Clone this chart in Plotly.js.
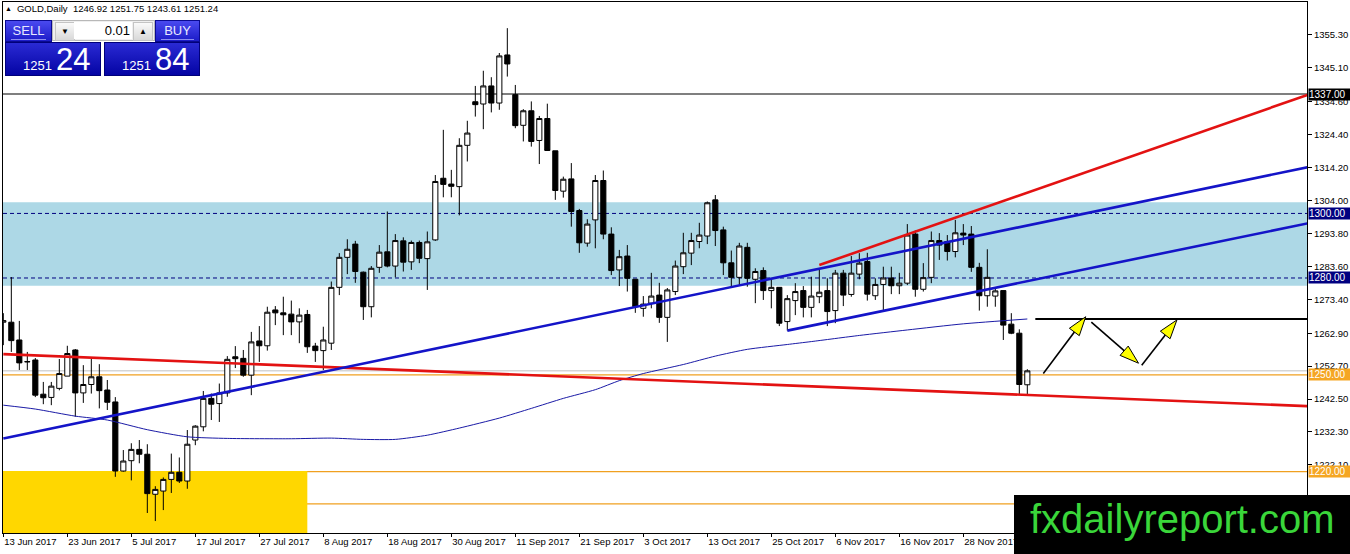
<!DOCTYPE html>
<html><head><meta charset="utf-8">
<script src="https://cdn.plot.ly/plotly-3.0.1.min.js"></script>
<style>
html,body{margin:0;padding:0;background:#fff;}
#wrap{position:relative;width:1350px;height:554px;overflow:hidden;font-family:"Liberation Sans",Arial,sans-serif;}
#chart{position:absolute;left:0;top:0;width:1350px;height:554px;}
.ov{position:absolute;box-sizing:border-box;}
#hdr{left:5px;top:3px;font-size:9.5px;color:#000;white-space:nowrap;line-height:12px;}
#hdr .tri{font-size:7px;margin-right:5px;vertical-align:1px;}
.btn{background:linear-gradient(#4a4af0,#1c1cc8);color:#e8e8ff;font-size:13px;text-align:center;line-height:20px;border:1px solid #0a0a90;}
.btn .sep{position:absolute;left:5px;right:5px;bottom:1px;height:1px;background:#8c8cf0;}
.pbox{background:linear-gradient(#2a2ad4,#0404a4);border:1px solid #00007a;color:#fff;}
.pbox .num{position:absolute;top:1px;white-space:nowrap;font-size:31px;line-height:31px;}
.pbox .small{font-size:13px;margin-right:4px;}
#spin{background:#efefef;border:1px solid #b8b8b8;}
#spin .b{position:absolute;top:1px;width:18px;height:17px;background:linear-gradient(#fafafa,#d8d8d8);border:1px solid #c4c4c4;font-size:8px;text-align:center;line-height:17px;color:#000;}
#spin .f{position:absolute;top:1px;left:20px;width:58px;height:17px;background:#fff;font-size:13px;text-align:right;line-height:17px;color:#000;padding-right:2px;box-sizing:border-box;}
#logo{left:1014px;top:495px;width:336px;height:59px;background:#000;color:#3ad63a;font-size:40px;line-height:49px;padding-left:16px;white-space:nowrap;}
</style></head><body>
<div id="wrap">
<div id="chart"></div>
<div class="ov" id="hdr"><span class="tri">&#9650;</span>GOLD,Daily&nbsp; 1246.92 1251.75 1243.61 1251.24</div>
<div class="ov btn" style="left:5px;top:20px;width:47px;height:22px;">SELL<div class="sep"></div></div>
<div class="ov" id="spin" style="left:52px;top:20px;width:103px;height:21px;">
  <div class="b" style="left:2px;">&#9660;</div>
  <div class="f" style="left:21px;width:58px;">0.01</div>
  <div class="b" style="left:80px;">&#9650;</div>
</div>
<div class="ov btn" style="left:155px;top:20px;width:45px;height:22px;">BUY<div class="sep"></div></div>
<div class="ov pbox" style="left:5px;top:42px;width:96px;height:34px;"><div class="num" style="left:17px;"><span class="small">1251</span>24</div></div>
<div class="ov pbox" style="left:104px;top:42px;width:96px;height:34px;"><div class="num" style="left:17px;"><span class="small">1251</span>84</div></div>
<div class="ov" id="logo">fxdailyreport.com</div>
</div>
<script>
// ---- candle data (GOLD, Daily) ----
const openP = [1266.3,1266.3,1260.8,1254.0,1254.6,1244.0,1243.0,1245.8,1249.6,1257.7,
1244.4,1247.0,1249.4,1245.3,1241.6,1220.2,1223.4,1226.9,1225.4,1213.0,
1214.0,1217.6,1219.8,1217.1,1229.8,1233.9,1242.7,1241.1,1244.4,1255.6,
1255.1,1249.9,1260.5,1259.0,1270.1,1269.2,1268.8,1266.4,1268.7,1258.9,
1257.5,1259.8,1277.1,1286.4,1290.5,1281.8,1271.1,1283.3,1288.1,1283.7,
1291.5,1285.0,1291.0,1286.0,1291.8,1310.9,1309.1,1308.3,1321.1,1334.6,
1333.9,1339.5,1334.2,1349.1,1336.8,1327.3,1331.8,1322.6,1329.4,1319.4,
1306.9,1310.7,1300.9,1290.8,1298.0,1310.2,1293.6,1282.5,1286.8,1279.6,
1270.6,1272.2,1274.7,1267.8,1275.8,1283.5,1287.7,1291.3,1293.0,1304.2,
1294.9,1284.7,1280.2,1289.5,1279.6,1282.3,1276.1,1277.1,1266.5,1273.0,
1276.1,1270.9,1274.2,1276.1,1269.9,1281.5,1274.9,1281.2,1285.1,1274.5,
1278.0,1280.0,1277.6,1278.4,1293.6,1276.5,1280.2,1291.6,1291.3,1288.2,
1293.9,1293.6,1283.3,1274.5,1274.4,1276.1,1265.7,1262.9,1246.92];
const highP = [1269.1,1280.3,1266.7,1257.1,1255.2,1247.8,1247.8,1254.9,1259.0,1258.0,
1253.0,1255.0,1253.3,1248.4,1243.1,1226.7,1228.8,1229.8,1228.5,1215.5,
1218.2,1225.6,1224.4,1232.9,1234.4,1245.0,1244.2,1247.3,1255.8,1258.9,
1257.7,1263.3,1265.1,1271.1,1271.3,1274.2,1273.0,1270.6,1270.1,1259.9,
1264.9,1278.9,1287.7,1292.0,1291.5,1282.0,1283.7,1290.2,1300.6,1293.6,
1292.6,1291.6,1291.6,1294.4,1311.9,1325.9,1313.5,1323.3,1328.7,1339.5,
1344.2,1342.2,1349.7,1357.4,1339.8,1332.3,1334.7,1330.2,1334.0,1319.4,
1311.4,1315.6,1301.4,1298.2,1311.9,1313.3,1295.7,1288.7,1290.2,1279.6,
1274.4,1281.6,1278.5,1276.9,1285.4,1294.0,1294.0,1297.1,1303.7,1305.7,
1295.9,1288.5,1290.9,1290.9,1283.0,1283.3,1279.6,1277.1,1274.7,1278.4,
1277.5,1280.4,1283.0,1279.9,1282.5,1282.5,1286.8,1287.7,1287.8,1279.9,
1283.5,1283.5,1281.6,1296.7,1294.7,1284.6,1294.4,1293.9,1293.3,1298.0,
1296.7,1296.1,1284.7,1288.9,1277.1,1276.1,1269.1,1264.1,1251.75];
const lowP = [1259.2,1257.1,1251.5,1251.5,1243.1,1240.9,1240.6,1245.2,1249.6,1237.0,
1241.3,1244.2,1239.6,1239.1,1218.4,1220.0,1217.3,1222.6,1207.2,1204.7,
1208.1,1213.4,1216.5,1214.7,1228.2,1232.5,1236.0,1235.4,1243.2,1252.1,
1249.4,1243.7,1254.0,1257.5,1265.4,1262.3,1262.3,1259.8,1256.8,1254.0,
1251.5,1257.7,1274.7,1281.2,1278.5,1267.0,1267.8,1281.6,1283.3,1280.2,
1282.0,1282.5,1284.6,1276.3,1291.5,1305.0,1305.0,1299.4,1316.1,1330.0,
1326.1,1331.3,1332.1,1342.4,1326.4,1322.3,1320.7,1315.3,1319.5,1304.2,
1304.9,1295.9,1287.8,1289.7,1289.2,1292.0,1280.9,1277.5,1275.8,1269.2,
1268.0,1270.6,1266.1,1260.2,1274.7,1281.2,1284.0,1289.2,1290.5,1289.9,
1280.9,1277.3,1277.8,1277.3,1272.2,1273.2,1270.6,1265.1,1263.7,1268.5,
1267.8,1267.8,1272.2,1265.1,1266.0,1271.3,1274.2,1279.6,1273.0,1273.2,
1270.1,1275.0,1275.0,1277.8,1274.2,1275.8,1278.4,1285.6,1285.4,1286.4,
1290.2,1281.9,1269.9,1271.1,1271.1,1260.8,1262.6,1243.7,1243.61];
const closeP = [1266.8,1260.6,1253.7,1254.1,1243.7,1242.9,1246.5,1250.4,1256.6,1244.4,
1247.0,1249.4,1245.1,1241.5,1220.2,1223.3,1226.9,1225.4,1213.2,1214.5,
1217.6,1219.8,1217.1,1228.5,1234.1,1242.7,1240.9,1244.4,1254.8,1255.0,
1249.9,1260.2,1259.0,1269.4,1269.2,1268.6,1266.4,1268.5,1258.7,1257.5,
1260.8,1277.1,1286.4,1288.9,1282.0,1271.1,1283.0,1288.0,1283.7,1291.6,
1284.9,1291.0,1286.1,1291.2,1309.9,1309.0,1308.4,1321.1,1324.9,1333.7,
1339.5,1334.2,1348.8,1346.3,1327.2,1331.8,1322.3,1329.4,1319.5,1307.1,
1310.6,1300.6,1290.9,1296.7,1310.2,1293.6,1282.3,1286.6,1279.9,1271.1,
1271.9,1274.4,1267.8,1276.3,1283.7,1287.8,1291.6,1293.3,1303.3,1294.7,
1284.7,1280.2,1289.9,1279.9,1282.0,1276.1,1277.1,1266.0,1273.6,1275.8,
1270.9,1274.4,1275.6,1269.6,1281.5,1274.7,1281.5,1284.6,1275.0,1278.0,
1280.0,1277.6,1278.4,1293.3,1276.5,1280.1,1291.6,1290.2,1288.2,1294.0,
1293.3,1283.3,1274.5,1280.2,1276.0,1265.4,1262.9,1247.0,1251.24];
const barIndex = openP.map((_, i) => i);

// ---- x-axis tick labels (bar index -> date) ----
const tickBars = [0,8,16,24,32,40,48,56,64,72,80,88,96,104,112,120];
const tickLabels = ["13 Jun 2017","23 Jun 2017","5 Jul 2017","17 Jul 2017","27 Jul 2017","8 Aug 2017",
 "18 Aug 2017","30 Aug 2017","11 Sep 2017","21 Sep 2017","3 Oct 2017","13 Oct 2017","25 Oct 2017",
 "6 Nov 2017","16 Nov 2017","28 Nov 2017"];
// ---- y-axis tick values ----
const priceTicks = [1355.30,1345.10,1334.60,1324.40,1314.20,1304.00,1293.80,1283.60,1273.40,1262.90,1252.70,1242.50,1232.30,1222.10,1211.90];

// ---- moving average ----
const maBar = [0,4,9,13,18,23,28,36,41,45,49,53,57,62,66,70,74,77,80,85,89,93,98,101,107,113,120,128];
const maValue = [1240.6,1239.4,1237.2,1236.0,1233.0,1230.8,1230.3,1230.2,1230.4,1230.0,1230.0,1231.3,1233.5,1236.6,1239.6,1242.7,1245.4,1248.2,1250.4,1253.2,1255.8,1257.9,1259.4,1260.3,1262.2,1263.9,1265.8,1267.3];

// ---- drawn objects (bar index / price) ----
const blueTrendBars = [0, 163],   blueTrendPrices = [1230.3, 1314.3];
const blueChanBars  = [98, 163],  blueChanPrices  = [1263.7, 1296.9];
const redLowBars    = [0, 163],   redLowPrices    = [1256.4, 1240.3];
const redHighBars   = [102, 163], redHighPrices   = [1284.0, 1336.7];
const targetBars    = [129, 163], targetPrices    = [1267.3, 1267.3];
const arrow1Bars = [130, 135.3], arrow1Prices = [1250.4, 1268.0];
const arrow2Bars = [136, 141.9], arrow2Prices = [1266.3, 1253.6];
const arrow3Bars = [142.3, 146.7], arrow3Prices = [1253.0, 1267.0];
const blueZone = [1277.6, 1303.5];
const goldZoneBars = [-1, 38], goldZone = [1190, 1220.2];
const resistLevel = 1337.00;
const dashedLevels = [1300.00, 1280.00];
const orangeLevels = [1250.00, 1220.00, 1210.00];
const bidLevel = 1251.24;

const FONT = '"Liberation Sans", Arial, sans-serif';

function lineTrace(xs, ys, color, width, extra) {
  return Object.assign({type:'scatter', mode:'lines', x:xs, y:ys, hoverinfo:'skip',
    line:{color:color, width:width}, showlegend:false}, extra || {});
}
function arrowTrace(xs, ys) {
  return {type:'scatter', mode:'lines+markers', x:xs, y:ys, hoverinfo:'skip', showlegend:false,
    line:{color:'#000', width:1.6},
    marker:{symbol:'arrow', angleref:'previous', size:[0,20], opacity:[0,1],
      color:'#ffff00', line:{color:'#000', width:1}}};
}

const traces = [
  {type:'candlestick', x:barIndex, open:openP, high:highP, low:lowP, close:closeP,
   increasing:{line:{color:'#000', width:1}, fillcolor:'#ffffff'},
   decreasing:{line:{color:'#000', width:1}, fillcolor:'#000000'},
   whiskerwidth:0, hoverinfo:'skip', showlegend:false},
  lineTrace(maBar, maValue, '#1a1aa6', 1, {line:{color:'#1a1aa6', width:1, shape:'spline', smoothing:0.6}}),
  lineTrace(redLowBars, redLowPrices, '#e31212', 2.6),
  lineTrace(redHighBars, redHighPrices, '#e31212', 2.6),
  lineTrace(blueTrendBars, blueTrendPrices, '#1414c8', 2.6),
  lineTrace(blueChanBars, blueChanPrices, '#1414c8', 2.6),
  lineTrace(targetBars, targetPrices, '#000', 2),
  arrowTrace(arrow1Bars, arrow1Prices),
  arrowTrace(arrow2Bars, arrow2Prices),
  arrowTrace(arrow3Bars, arrow3Prices)
];

const shapes = [
  {type:'rect', xref:'paper', x0:0, x1:1, yref:'y', y0:blueZone[0], y1:blueZone[1],
   fillcolor:'#add8e6', line:{width:0}, layer:'below'},
  {type:'rect', xref:'x', x0:goldZoneBars[0], x1:goldZoneBars[1], yref:'y', y0:goldZone[0], y1:goldZone[1],
   fillcolor:'#ffd700', line:{width:0}, layer:'below'},
  {type:'line', xref:'paper', x0:0, x1:1, yref:'y', y0:resistLevel, y1:resistLevel,
   line:{color:'#000', width:1.2}, layer:'below'},
  {type:'line', xref:'paper', x0:0, x1:1, yref:'y', y0:bidLevel, y1:bidLevel,
   line:{color:'#c0c0c0', width:1}, layer:'below'}
];
dashedLevels.forEach(v => shapes.push({type:'line', xref:'paper', x0:0, x1:1, yref:'y', y0:v, y1:v,
   line:{color:'#000080', width:1, dash:'4px,3px'}, layer:'below'}));
orangeLevels.forEach(v => shapes.push({type:'line', xref:'paper', x0:0, x1:1, yref:'y', y0:v, y1:v,
   line:{color:'#f0a020', width:1.2}, layer:'below'}));

function priceLabel(v, bg) {
  return {xref:'paper', x:1, xanchor:'left', xshift:1, yref:'y', y:v, yanchor:'middle',
    text:v.toFixed(2), showarrow:false, bgcolor:bg, width:41, height:11, align:'left',
    borderpad:0, font:{family:FONT, size:10, color:'#fff'}};
}
const annotations = [
  priceLabel(resistLevel, '#000000'),
  priceLabel(dashedLevels[0], '#000080'),
  priceLabel(dashedLevels[1], '#000080'),
  priceLabel(orangeLevels[0], '#f5a623'),
  priceLabel(orangeLevels[1], '#f5a623')
];

const layout = {
  width:1350, height:554,
  margin:{l:3, r:43, t:2, b:21, pad:0},
  paper_bgcolor:'#fff', plot_bgcolor:'#fff',
  showlegend:false,
  boxgap:0.2, boxgroupgap:0.2,
  font:{family:FONT, size:9.5, color:'#000'},
  xaxis:{type:'linear', range:[-0.04, 162.96], rangeslider:{visible:false},
    showgrid:false, zeroline:false, showline:true, mirror:true, linecolor:'#000', linewidth:1,
    ticks:'outside', ticklen:3, tickcolor:'#000', tickvals:tickBars, ticktext:tickLabels,
    ticklabelposition:'outside right', tickfont:{family:FONT, size:9.5, color:'#000'}},
  yaxis:{side:'right', range:[1201.0, 1365.5], showgrid:false, zeroline:false,
    showline:true, mirror:true, linecolor:'#000', linewidth:1,
    ticks:'outside', ticklen:4, tickcolor:'#000', tickvals:priceTicks,
    ticktext:priceTicks.map(v => v.toFixed(2)), tickfont:{family:FONT, size:9.5, color:'#000'}},
  shapes:shapes,
  annotations:annotations
};

Plotly.newPlot('chart', traces, layout, {staticPlot:true, displayModeBar:false});
</script>
</body></html>
